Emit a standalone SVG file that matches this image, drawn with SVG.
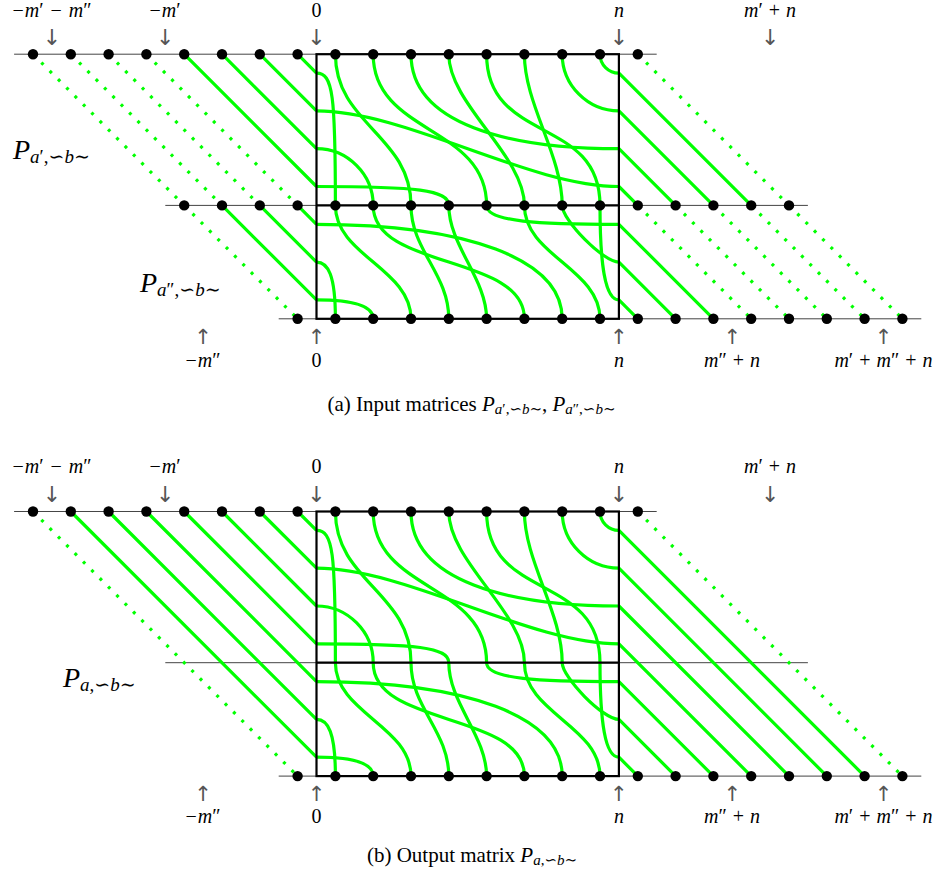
<svg xmlns="http://www.w3.org/2000/svg" xmlns:xlink="http://www.w3.org/1999/xlink" width="943" height="882" viewBox="0 0 943 882">
<style>
.thin{stroke:#444;stroke-width:1;fill:none}
.box{stroke:#000;stroke-width:2.2;fill:none}
.g{stroke:#00ff00;stroke-width:3.2;fill:none}
.gd{stroke:#00ff00;stroke-width:3.2;fill:none;stroke-dasharray:3 8.8}
.dot{fill:#000}
text{font-family:"Liberation Serif","DejaVu Serif",serif;fill:#000}
.lb{font-size:20px}
.it{font-style:italic}
.arr{font-family:"DejaVu Sans",sans-serif;font-size:22px;fill:#555}
.arb{font-family:"DejaVu Sans",sans-serif;font-size:21px;fill:#555}
.P{font-size:28px}
.sub{font-size:19px}
.cap{font-size:21px}
.csub{font-size:15px}
</style>
<defs>
<g id="braid">
<path class="g" d="M316.5,73.1 C333,73.1 335.4,95 335.4,205.4"/>
<path class="g" d="M316.5,110.9 C406.5,110.9 528.9,186.5 618.9,186.5"/>
<path class="g" d="M316.5,148.7 C347.5,148.7 373.2,174.4 373.2,205.4"/>
<path class="g" d="M316.5,186.5 C416.5,186.5 448.8,190 448.8,205.4"/>
<path class="g" d="M335.4,54.2 C335.4,124.2 411,135.4 411,205.4"/>
<path class="g" d="M373.2,54.2 C373.2,134.2 486.6,125.4 486.6,205.4"/>
<path class="g" d="M411,54.2 C411,124.2 508.9,148.7 618.9,148.7"/>
<path class="g" d="M448.8,54.2 C448.8,104.2 524.4,155.4 524.4,205.4"/>
<path class="g" d="M486.6,54.2 C486.6,144.2 600,115.4 600,205.4"/>
<path class="g" d="M524.4,54.2 C524.4,104.2 562.2,155.4 562.2,205.4"/>
<path class="g" d="M562.2,54.2 C562.2,85.2 587.9,110.9 618.9,110.9"/>
<path class="g" d="M600,54.2 C600,64.6 608.5,73.1 618.9,73.1"/>
<path class="g" d="M335.4,205.4 C335.4,255.4 411,268.8 411,318.8"/>
<path class="g" d="M373.2,205.4 C373.2,270.4 524.4,253.8 524.4,318.8"/>
<path class="g" d="M411,205.4 C411,250.4 448.8,273.8 448.8,318.8"/>
<path class="g" d="M448.8,205.4 C448.8,245.4 486.6,278.8 486.6,318.8"/>
<path class="g" d="M316.5,224.3 C466.5,224.3 562.2,258.8 562.2,318.8"/>
<path class="g" d="M486.6,205.4 C486.6,222 540,224.3 618.9,224.3"/>
<path class="g" d="M524.4,205.4 C524.4,255.4 600,268.8 600,318.8"/>
<path class="g" d="M562.2,205.4 C562.2,220 603,262.1 618.9,262.1"/>
<path class="g" d="M600,205.4 C600,265 605,299.9 618.9,299.9"/>
<path class="g" d="M316.5,262.1 C328,262.1 335.4,275 335.4,318.8"/>
<path class="g" d="M316.5,299.9 C350,299.9 373.2,305 373.2,318.8"/>
</g>
<g id="topdots">
<circle class="dot" cx="33" cy="54.2" r="5.2"/><circle class="dot" cx="70.8" cy="54.2" r="5.2"/><circle class="dot" cx="108.6" cy="54.2" r="5.2"/><circle class="dot" cx="146.4" cy="54.2" r="5.2"/><circle class="dot" cx="184.2" cy="54.2" r="5.2"/><circle class="dot" cx="222" cy="54.2" r="5.2"/><circle class="dot" cx="259.8" cy="54.2" r="5.2"/><circle class="dot" cx="297.6" cy="54.2" r="5.2"/><circle class="dot" cx="335.4" cy="54.2" r="5.2"/><circle class="dot" cx="373.2" cy="54.2" r="5.2"/><circle class="dot" cx="411" cy="54.2" r="5.2"/><circle class="dot" cx="448.8" cy="54.2" r="5.2"/><circle class="dot" cx="486.6" cy="54.2" r="5.2"/><circle class="dot" cx="524.4" cy="54.2" r="5.2"/><circle class="dot" cx="562.2" cy="54.2" r="5.2"/><circle class="dot" cx="600" cy="54.2" r="5.2"/><circle class="dot" cx="637.8" cy="54.2" r="5.2"/>
</g>
<g id="botdots">
<circle class="dot" cx="297.6" cy="318.8" r="5.2"/><circle class="dot" cx="335.4" cy="318.8" r="5.2"/><circle class="dot" cx="373.2" cy="318.8" r="5.2"/><circle class="dot" cx="411" cy="318.8" r="5.2"/><circle class="dot" cx="448.8" cy="318.8" r="5.2"/><circle class="dot" cx="486.6" cy="318.8" r="5.2"/><circle class="dot" cx="524.4" cy="318.8" r="5.2"/><circle class="dot" cx="562.2" cy="318.8" r="5.2"/><circle class="dot" cx="600" cy="318.8" r="5.2"/><circle class="dot" cx="637.8" cy="318.8" r="5.2"/><circle class="dot" cx="675.6" cy="318.8" r="5.2"/><circle class="dot" cx="713.4" cy="318.8" r="5.2"/><circle class="dot" cx="751.2" cy="318.8" r="5.2"/><circle class="dot" cx="789" cy="318.8" r="5.2"/><circle class="dot" cx="826.8" cy="318.8" r="5.2"/><circle class="dot" cx="864.6" cy="318.8" r="5.2"/><circle class="dot" cx="902.4" cy="318.8" r="5.2"/>
</g>
</defs>

<!-- Panel (a): input matrices -->
<g id="panel-a">
<g id="a-lines">
<path class="thin" d="M14.1,54.2 H656.7 M165.3,205.4 H807.9 M278.7,318.8 H921.3"/>
</g>
<g id="a-connectors">
<path class="gd" d="M33,54.2 L184.2,205.4 M70.8,54.2 L222,205.4 M108.6,54.2 L259.8,205.4 M146.4,54.2 L297.6,205.4 M184.2,205.4 L297.6,318.8 M637.8,54.2 L789,205.4 M637.8,205.4 L751.2,318.8 M675.6,205.4 L789,318.8 M713.4,205.4 L826.8,318.8 M751.2,205.4 L864.6,318.8 M789,205.4 L902.4,318.8"/>
<path class="g" d="M184.2,54.2 L316.5,186.5 M222,54.2 L316.5,148.7 M259.8,54.2 L316.5,110.9 M297.6,54.2 L316.5,73.1 M222,205.4 L316.5,299.9 M259.8,205.4 L316.5,262.1 M297.6,205.4 L316.5,224.3 M618.9,73.1 L751.2,205.4 M618.9,110.9 L713.4,205.4 M618.9,148.7 L675.6,205.4 M618.9,186.5 L637.8,205.4 M618.9,224.3 L713.4,318.8 M618.9,262.1 L675.6,318.8 M618.9,299.9 L637.8,318.8"/>
<use xlink:href="#braid" href="#braid"/>
</g>
<g id="a-box">
<rect class="box" x="316.5" y="54.2" width="302.4" height="264.6"/>
<path class="box" d="M316.5,205.4 H618.9"/>
</g>
<g id="a-dots">
<use xlink:href="#topdots" href="#topdots"/>
<use xlink:href="#botdots" href="#botdots"/>
<circle class="dot" cx="184.2" cy="205.4" r="5.2"/><circle class="dot" cx="222" cy="205.4" r="5.2"/><circle class="dot" cx="259.8" cy="205.4" r="5.2"/><circle class="dot" cx="297.6" cy="205.4" r="5.2"/><circle class="dot" cx="335.4" cy="205.4" r="5.2"/><circle class="dot" cx="373.2" cy="205.4" r="5.2"/><circle class="dot" cx="411" cy="205.4" r="5.2"/><circle class="dot" cx="448.8" cy="205.4" r="5.2"/><circle class="dot" cx="486.6" cy="205.4" r="5.2"/><circle class="dot" cx="524.4" cy="205.4" r="5.2"/><circle class="dot" cx="562.2" cy="205.4" r="5.2"/><circle class="dot" cx="600" cy="205.4" r="5.2"/><circle class="dot" cx="637.8" cy="205.4" r="5.2"/><circle class="dot" cx="675.6" cy="205.4" r="5.2"/><circle class="dot" cx="713.4" cy="205.4" r="5.2"/><circle class="dot" cx="751.2" cy="205.4" r="5.2"/><circle class="dot" cx="789" cy="205.4" r="5.2"/>
</g>
<g id="a-labels">
<text class="lb" x="52" y="17" text-anchor="middle">−<tspan class="it" dx="1">m</tspan>′<tspan dx="7">−</tspan><tspan class="it" dx="7">m</tspan>″</text>
<text class="lb" x="165" y="17" text-anchor="middle">−<tspan class="it" dx="1">m</tspan>′</text>
<text class="lb" x="316.5" y="17" text-anchor="middle">0</text>
<text class="lb it" x="619" y="17" text-anchor="middle">n</text>
<text class="lb" x="770" y="17" text-anchor="middle"><tspan class="it">m</tspan>′<tspan dx="6">+</tspan><tspan class="it" dx="6">n</tspan></text>
<text class="arr" x="52" y="45" text-anchor="middle">↓︎</text>
<text class="arr" x="165.3" y="45" text-anchor="middle">↓︎</text>
<text class="arr" x="316.5" y="45" text-anchor="middle">↓︎</text>
<text class="arr" x="618.9" y="45" text-anchor="middle">↓︎</text>
<text class="arr" x="770.1" y="45" text-anchor="middle">↓︎</text>
<text class="arb" x="203.1" y="344.2" text-anchor="middle">↑︎</text>
<text class="arb" x="316.5" y="344.2" text-anchor="middle">↑︎</text>
<text class="arb" x="618.9" y="344.2" text-anchor="middle">↑︎</text>
<text class="arb" x="732.3" y="344.2" text-anchor="middle">↑︎</text>
<text class="arb" x="883.5" y="344.2" text-anchor="middle">↑︎</text>
<text class="lb" x="203" y="366.5" text-anchor="middle">−<tspan class="it" dx="1">m</tspan>″</text>
<text class="lb" x="316.5" y="366.5" text-anchor="middle">0</text>
<text class="lb it" x="619" y="366.5" text-anchor="middle">n</text>
<text class="lb" x="732" y="366.5" text-anchor="middle"><tspan class="it">m</tspan>″<tspan dx="6">+</tspan><tspan class="it" dx="6">n</tspan></text>
<text class="lb" x="883.5" y="366.5" text-anchor="middle"><tspan class="it">m</tspan>′<tspan dx="6">+</tspan><tspan class="it" dx="6">m</tspan>″<tspan dx="6">+</tspan><tspan class="it" dx="6">n</tspan></text>
<text x="13" y="159"><tspan class="P it">P</tspan><tspan class="sub it" dy="4">a</tspan><tspan class="sub">′,∽</tspan><tspan class="sub it">b</tspan><tspan class="sub">∼</tspan></text>
<text x="140" y="291.5"><tspan class="P it">P</tspan><tspan class="sub it" dy="4">a</tspan><tspan class="sub">″,∽</tspan><tspan class="sub it">b</tspan><tspan class="sub">∼</tspan></text>
<text class="cap" x="471.5" y="411" text-anchor="middle">(a) Input matrices <tspan class="it">P</tspan><tspan class="csub it" dy="3">a</tspan><tspan class="csub">′,∽</tspan><tspan class="csub it">b</tspan><tspan class="csub">∼</tspan><tspan dy="-3">, </tspan><tspan class="it">P</tspan><tspan class="csub it" dy="3">a</tspan><tspan class="csub">″,∽</tspan><tspan class="csub it">b</tspan><tspan class="csub">∼</tspan></text>
</g>
</g>

<!-- Panel (b): output matrix -->
<g id="panel-b">
<g transform="translate(0,457.3)">
<g id="b-lines">
<path class="thin" d="M14.1,54.2 H656.7 M165.3,205.4 H807.9 M278.7,318.8 H921.3"/>
</g>
<g id="b-connectors">
<path class="gd" d="M33,54.2 L297.6,318.8 M637.8,54.2 L902.4,318.8"/>
<path class="g" d="M70.8,54.2 L316.5,299.9 M108.6,54.2 L316.5,262.1 M146.4,54.2 L316.5,224.3 M184.2,54.2 L316.5,186.5 M222,54.2 L316.5,148.7 M259.8,54.2 L316.5,110.9 M297.6,54.2 L316.5,73.1 M618.9,73.1 L864.6,318.8 M618.9,110.9 L826.8,318.8 M618.9,148.7 L789,318.8 M618.9,186.5 L751.2,318.8 M618.9,224.3 L713.4,318.8 M618.9,262.1 L675.6,318.8 M618.9,299.9 L637.8,318.8"/>
<use xlink:href="#braid" href="#braid"/>
</g>
<g id="b-box">
<rect class="box" x="316.5" y="54.2" width="302.4" height="264.6"/>
<path class="box" d="M316.5,205.4 H618.9"/>
</g>
<g id="b-dots">
<use xlink:href="#topdots" href="#topdots"/>
<use xlink:href="#botdots" href="#botdots"/>
</g>
</g>
<g id="b-labels">
<text class="lb" x="52" y="473.3" text-anchor="middle">−<tspan class="it" dx="1">m</tspan>′<tspan dx="7">−</tspan><tspan class="it" dx="7">m</tspan>″</text>
<text class="lb" x="165" y="473.3" text-anchor="middle">−<tspan class="it" dx="1">m</tspan>′</text>
<text class="lb" x="316.5" y="473.3" text-anchor="middle">0</text>
<text class="lb it" x="619" y="473.3" text-anchor="middle">n</text>
<text class="lb" x="770" y="473.3" text-anchor="middle"><tspan class="it">m</tspan>′<tspan dx="6">+</tspan><tspan class="it" dx="6">n</tspan></text>
<text class="arr" x="52" y="502" text-anchor="middle">↓︎</text>
<text class="arr" x="165.3" y="502" text-anchor="middle">↓︎</text>
<text class="arr" x="316.5" y="502" text-anchor="middle">↓︎</text>
<text class="arr" x="618.9" y="502" text-anchor="middle">↓︎</text>
<text class="arr" x="770.1" y="502" text-anchor="middle">↓︎</text>
<text class="arb" x="203.1" y="800.5" text-anchor="middle">↑︎</text>
<text class="arb" x="316.5" y="800.5" text-anchor="middle">↑︎</text>
<text class="arb" x="618.9" y="800.5" text-anchor="middle">↑︎</text>
<text class="arb" x="732.3" y="800.5" text-anchor="middle">↑︎</text>
<text class="arb" x="883.5" y="800.5" text-anchor="middle">↑︎</text>
<text class="lb" x="203" y="822.5" text-anchor="middle">−<tspan class="it" dx="1">m</tspan>″</text>
<text class="lb" x="316.5" y="822.5" text-anchor="middle">0</text>
<text class="lb it" x="619" y="822.5" text-anchor="middle">n</text>
<text class="lb" x="732" y="822.5" text-anchor="middle"><tspan class="it">m</tspan>″<tspan dx="6">+</tspan><tspan class="it" dx="6">n</tspan></text>
<text class="lb" x="883.5" y="822.5" text-anchor="middle"><tspan class="it">m</tspan>′<tspan dx="6">+</tspan><tspan class="it" dx="6">m</tspan>″<tspan dx="6">+</tspan><tspan class="it" dx="6">n</tspan></text>
<text x="63" y="687"><tspan class="P it">P</tspan><tspan class="sub it" dy="4">a</tspan><tspan class="sub">,∽</tspan><tspan class="sub it">b</tspan><tspan class="sub">∼</tspan></text>
<text class="cap" x="472" y="862" text-anchor="middle">(b) Output matrix <tspan class="it">P</tspan><tspan class="csub it" dy="3">a</tspan><tspan class="csub">,∽</tspan><tspan class="csub it">b</tspan><tspan class="csub">∼</tspan></text>
</g>
</g>
</svg>
